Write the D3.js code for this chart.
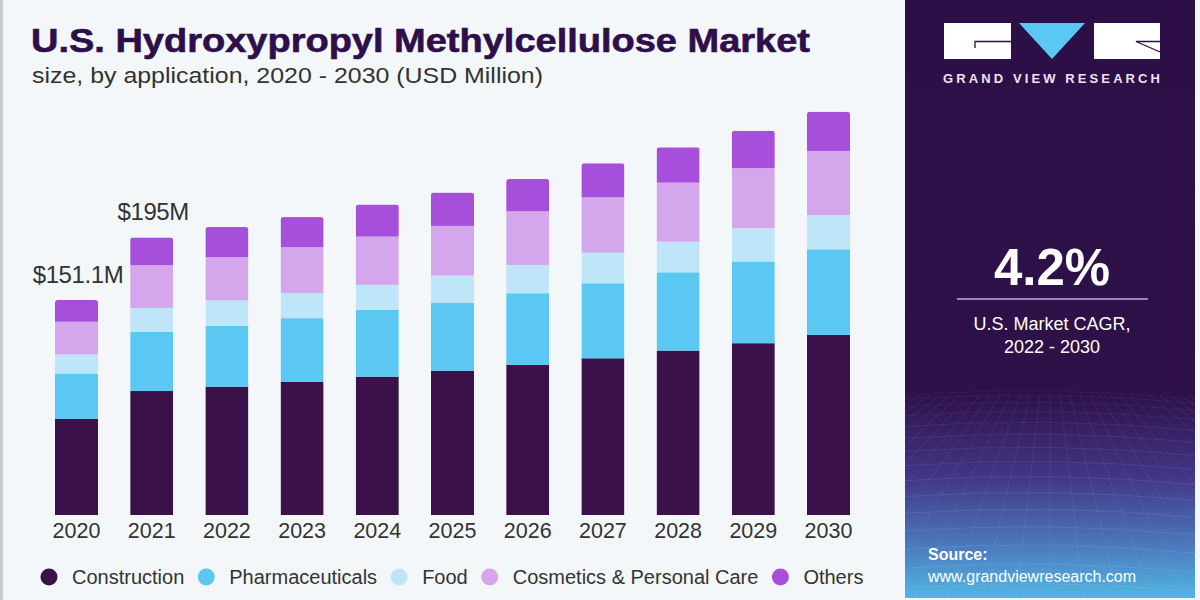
<!DOCTYPE html>
<html>
<head>
<meta charset="utf-8">
<script src="https://cdn.jsdelivr.net/npm/d3@7"></script>
<style>
  html, body { margin: 0; padding: 0; background: #f3f7fa; }
  svg { display: block; font-family: "Liberation Sans", Arial, sans-serif; }
</style>
</head>
<body>
<svg width="1200" height="600"></svg>
<script>

var years = ['2020', '2021', '2022', '2023', '2024', '2025', '2026', '2027', '2028', '2029', '2030']
var construction = [67.5, 87.1, 90.2, 93.7, 97.2, 101.4, 105.4, 110.1, 115.5, 120.7, 126.5]
var pharmaceuticals = [31.9, 41.6, 42.9, 44.6, 46.9, 47.8, 50.4, 52.7, 55.0, 57.4, 60.2]
var food = [13.4, 16.8, 17.6, 17.6, 17.6, 19.0, 19.9, 21.5, 21.5, 23.4, 24.1]
var cosmetics = [23.0, 30.1, 30.5, 32.3, 33.9, 34.9, 37.7, 38.9, 41.5, 42.2, 45.0]
var others = [15.3, 19.4, 21.1, 21.1, 22.5, 23.4, 22.7, 23.9, 24.8, 26.2, 27.6]

var seriesNames = ['Construction', 'Pharmaceuticals', 'Food', 'Cosmetics & Personal Care', 'Others']
var seriesColors = ['#3a1149', '#5bc8f3', '#bfe6f8', '#d4a6ec', '#a64fdb']

var labelYears = ['2020', '2021']
var labelTexts = ['$151.1M', '$195M']

var cagrValue = '4.2%'
var cagrLines = ['U.S. Market CAGR,', '2022 - 2030']

var svg = d3.select('svg')

// background + thin grey edge on the left
svg.append('rect').attr('width', 1200).attr('height', 600).attr('fill', '#f3f7fa')
svg.append('rect').attr('width', 3).attr('height', 600).attr('fill', '#c8ccd2')

// table for the stack
var table = years.map(function(y, i) {
    return {
        year: y,
        'Construction': construction[i],
        'Pharmaceuticals': pharmaceuticals[i],
        'Food': food[i],
        'Cosmetics & Personal Care': cosmetics[i],
        'Others': others[i]
    }
})
var stacked = d3.stack().keys(seriesNames)(table)

var x = d3.scaleBand()
    .domain(years)
    .range([38.9, 866.1])
    .paddingInner(0.428)
    .paddingOuter(0.214)

var y = d3.scaleLinear().domain([0, 300]).range([515, 88])

var color = d3.scaleOrdinal().domain(seriesNames).range(seriesColors)

// rounded tops for each bar
var defs = svg.append('defs')
defs.selectAll('clipPath.bar')
    .data(table)
    .join('clipPath')
    .attr('class', 'bar')
    .attr('id', function(d, i) { return 'clip' + i })
    .append('rect')
    .attr('x', function(d) { return x(d.year) })
    .attr('y', function(d, i) { return y(stacked[stacked.length - 1][i][1]) })
    .attr('width', x.bandwidth())
    .attr('height', function(d, i) { return y(0) - y(stacked[stacked.length - 1][i][1]) + 6 })
    .attr('rx', 3)

var bars = svg.append('g')
bars.selectAll('g')
    .data(table)
    .join('g')
    .attr('clip-path', function(d, i) { return 'url(#clip' + i + ')' })
    .selectAll('rect')
    .data(function(d, i) { return stacked.map(function(s) { return { key: s.key, v: s[i], year: d.year } }) })
    .join('rect')
    .attr('x', function(d) { return x(d.year) })
    .attr('y', function(d) { return y(d.v[1]) })
    .attr('width', x.bandwidth())
    .attr('height', function(d) { return y(d.v[0]) - y(d.v[1]) })
    .attr('fill', function(d) { return color(d.key) })

// year axis
var axis = d3.axisBottom(x).tickSize(0).tickPadding(8)
var axisG = svg.append('g')
    .attr('transform', 'translate(0,' + y(0) + ')')
    .call(axis)
axisG.select('.domain').remove()
axisG.selectAll('text')
    .attr('font-size', 21.5)
    .attr('fill', '#333')
    .attr('font-family', '"Liberation Sans", Arial, sans-serif')

// value labels above first two bars
svg.selectAll('.val')
    .data(labelYears)
    .join('text')
    .attr('class', 'val')
    .attr('x', function(d) { return x(d) + x.bandwidth() / 2 + 1.5 })
    .attr('y', function(d) {
        var i = years.indexOf(d)
        return y(stacked[stacked.length - 1][i][1]) - 17
    })
    .attr('text-anchor', 'middle')
    .attr('font-size', 24)
    .attr('letter-spacing', -0.4)
    .attr('fill', '#333')
    .text(function(d, i) { return labelTexts[i] })

// title
svg.append('text')
    .attr('x', 31).attr('y', 52)
    .attr('font-size', 33)
    .attr('font-weight', 'bold')
    .attr('fill', '#2e0f4b')
    .attr('stroke', '#2e0f4b')
    .attr('stroke-width', 0.6)
    .attr('textLength', 779)
    .attr('lengthAdjust', 'spacingAndGlyphs')
    .text('U.S. Hydroxypropyl Methylcellulose Market')
svg.append('text')
    .attr('x', 32).attr('y', 83)
    .attr('font-size', 22.5)
    .attr('fill', '#333')
    .attr('textLength', 511)
    .attr('lengthAdjust', 'spacingAndGlyphs')
    .text('size, by application, 2020 - 2030 (USD Million)')

// legend, flowing left to right
var legend = svg.append('g').attr('transform', 'translate(0,577)')
var lx = 49
seriesNames.forEach(function(name, i) {
    legend.append('circle')
        .attr('cx', lx).attr('cy', 0).attr('r', 8.5)
        .attr('fill', seriesColors[i])
    var t = legend.append('text')
        .attr('x', lx + 23).attr('y', 7)
        .attr('font-size', 20)
        .attr('fill', '#333')
        .text(name)
    lx = lx + 23 + t.node().getComputedTextLength() + 22
})

// right panel
var grad = defs.append('linearGradient')
    .attr('id', 'panelGrad')
    .attr('x1', 0).attr('y1', 0).attr('x2', 0).attr('y2', 1)
grad.append('stop').attr('offset', '0%').attr('stop-color', '#2c0f46')
grad.append('stop').attr('offset', '66%').attr('stop-color', '#2e1148')
grad.append('stop').attr('offset', '80%').attr('stop-color', '#433687')
grad.append('stop').attr('offset', '91%').attr('stop-color', '#4a78bc')
grad.append('stop').attr('offset', '100%').attr('stop-color', '#52b6e4')

defs.append('clipPath').attr('id', 'panelClip')
    .append('rect')
    .attr('x', 905).attr('y', 0).attr('width', 290).attr('height', 598)

var panel = svg.append('g')
panel.append('rect')
    .attr('x', 905).attr('y', 0).attr('width', 290).attr('height', 598)
    .attr('fill', 'url(#panelGrad)')

// faint mesh near the bottom of the panel
var mesh = panel.append('g')
    .attr('clip-path', 'url(#panelClip)')
    .attr('stroke', '#a9c8f0').attr('stroke-width', 0.7).attr('fill', 'none')
d3.range(0, 18).forEach(function(k) {
    var yy = 395 + Math.pow(k, 1.45) * 4.2
    if (yy < 598) {
        mesh.append('path')
            .attr('d', 'M905,' + yy + ' Q1050,' + (yy - 10) + ' 1195,' + (yy + 4))
            .attr('opacity', 0.08 + k * 0.012)
    }
})
d3.range(-14, 15).forEach(function(k) {
    mesh.append('line')
        .attr('x1', 1050 + k * 10).attr('y1', 395)
        .attr('x2', 1050 + k * 34).attr('y2', 598)
        .attr('opacity', 0.14)
})

// logo
var logo = panel.append('g')
logo.append('rect').attr('x', 944).attr('y', 23).attr('width', 67).attr('height', 36).attr('fill', '#fff')
logo.append('rect').attr('x', 1094).attr('y', 23).attr('width', 66).attr('height', 36).attr('fill', '#fff')
logo.append('path').attr('d', 'M1019,23 L1085,23 L1052,59 Z').attr('fill', '#5bc8f3')
logo.append('path').attr('d', 'M975,48 L975,41.5 L1011,41.5')
    .attr('stroke', '#2c0f46').attr('stroke-width', 1.3).attr('fill', 'none')
logo.append('path').attr('d', 'M1160,41.5 L1136,41.5 L1160,52')
    .attr('stroke', '#2c0f46').attr('stroke-width', 1.3).attr('fill', 'none')
logo.append('text')
    .attr('x', 943).attr('y', 83)
    .attr('font-size', 13)
    .attr('font-weight', 'bold')
    .attr('fill', '#ece4f3')
    .attr('textLength', 217)
    .attr('lengthAdjust', 'spacing')
    .text('GRAND VIEW RESEARCH')

// CAGR block
panel.append('text')
    .attr('x', 1052).attr('y', 285)
    .attr('text-anchor', 'middle')
    .attr('font-size', 51)
    .attr('font-weight', 'bold')
    .attr('fill', '#fff')
    .text(cagrValue)
panel.append('line')
    .attr('x1', 957).attr('x2', 1148)
    .attr('y1', 299).attr('y2', 299)
    .attr('stroke', '#c9a6e3').attr('stroke-width', 1.5)
panel.selectAll('.cagr')
    .data(cagrLines)
    .join('text')
    .attr('class', 'cagr')
    .attr('x', 1052)
    .attr('y', function(d, i) { return 330 + i * 23 })
    .attr('text-anchor', 'middle')
    .attr('font-size', 18)
    .attr('fill', '#fff')
    .text(function(d) { return d })

// source
panel.append('text')
    .attr('x', 928).attr('y', 560)
    .attr('font-size', 16)
    .attr('font-weight', 'bold')
    .attr('fill', '#fff')
    .text('Source:')
panel.append('text')
    .attr('x', 928).attr('y', 582)
    .attr('font-size', 16)
    .attr('fill', '#fff')
    .text('www.grandviewresearch.com')

</script>
</body>
</html>
